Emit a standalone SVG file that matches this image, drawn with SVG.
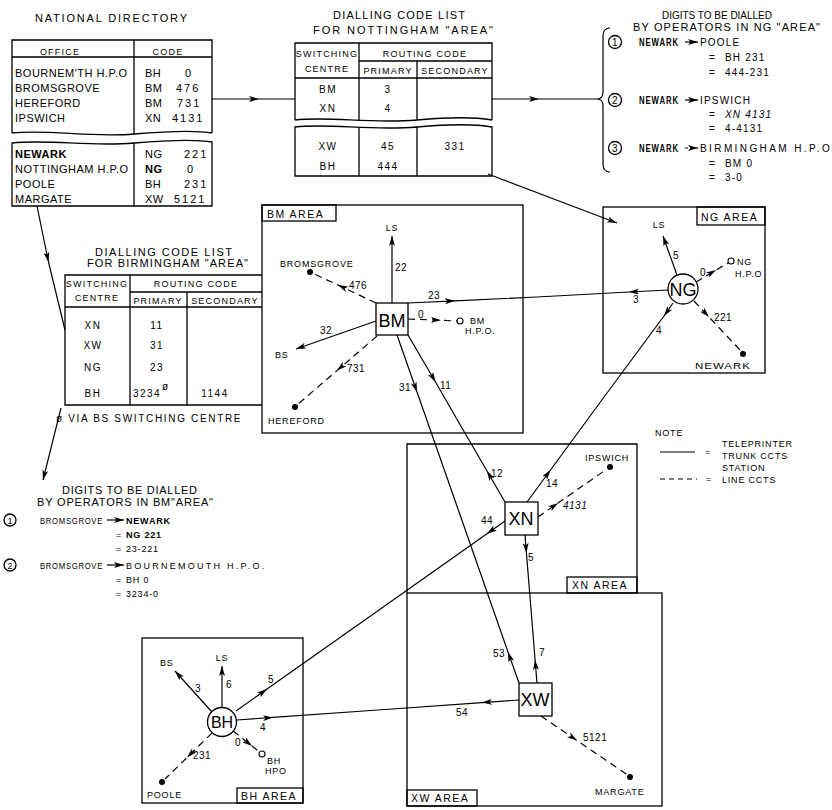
<svg xmlns="http://www.w3.org/2000/svg" width="832" height="810" viewBox="0 0 832 810">
<defs>
<marker id="ar" viewBox="0 0 10 6" refX="10" refY="3" markerWidth="10" markerHeight="6" markerUnits="userSpaceOnUse" orient="auto"><path d="M0,0 L10,3 L0,6 L2.5,3 z" fill="#000"/></marker>
</defs>
<style>
text{font-family:"Liberation Sans",Arial,sans-serif;fill:#000}
.ln{stroke:#000;stroke-width:1.2;fill:none}
.ds{stroke-dasharray:7 5}
.bx{fill:none;stroke:#000;stroke-width:1.3}
.nb{fill:#fff;stroke:#000;stroke-width:1.3}
.mm{marker-mid:url(#ar)}
.me{marker-end:url(#ar)}
.h{font-size:11px}
.r{font-size:11px;letter-spacing:0.5px}
.cd{font-size:11px;letter-spacing:2px}
.c{font-size:9px;letter-spacing:0.8px}
.hd{font-size:9px;letter-spacing:1.2px}
.l{font-size:10px;letter-spacing:0.5px}
.tl{font-size:10px;letter-spacing:1.5px}
.a{font-size:10.5px;letter-spacing:1.5px}
.g{font-size:10px;letter-spacing:1.2px}
.n{font-size:18px}
.m{text-anchor:middle}
.e{text-anchor:end}
.b{font-weight:bold}
.dot{fill:#000}
.oc{fill:#fff;stroke:#000;stroke-width:1.1}
</style>

<!-- NATIONAL DIRECTORY -->
<g id="national-directory">
<text class="h" x="35" y="22" textLength="152" lengthAdjust="spacing">NATIONAL DIRECTORY</text>
<path class="bx" d="M12,133 L12,40 L212,40 L212,133"/>
<path class="bx" d="M12,133 C50,129 90,138 134,134 C170,131 195,130 212,133"/>
<path class="bx" d="M12,57 L212,57 M134,40 L134,134"/>
<path class="bx" d="M12,143 C50,139 90,147 134,143 C170,140 195,139 212,142 L212,206 L12,206 Z M134,143 L134,206"/>
<text class="hd m" x="60" y="55">OFFICE</text>
<text class="hd m" x="168" y="55">CODE</text>
<text class="r" x="15" y="77">BOURNEM'TH H.P.O</text>
<text class="r" x="15" y="92">BROMSGROVE</text>
<text class="r" x="15" y="107">HEREFORD</text>
<text class="r" x="15" y="122">IPSWICH</text>
<text class="r" x="145" y="77">BH</text><text class="cd" x="185" y="77">0</text>
<text class="r" x="145" y="92">BM</text><text class="cd" x="176" y="92">476</text>
<text class="r" x="145" y="107">BM</text><text class="cd" x="177" y="107">731</text>
<text class="r" x="145" y="122">XN</text><text class="cd" x="172" y="122">4131</text>
<text class="r b" x="15" y="158">NEWARK</text>
<text class="r" x="15" y="173">NOTTINGHAM H.P.O</text>
<text class="r" x="15" y="188">POOLE</text>
<text class="r" x="15" y="203">MARGATE</text>
<text class="r" x="145" y="158">NG</text><text class="cd" x="184" y="158">221</text>
<text class="r b" x="145" y="173">NG</text><text class="cd" x="187" y="173">0</text>
<text class="r" x="145" y="188">BH</text><text class="cd" x="184" y="188">231</text>
<text class="r" x="145" y="203">XW</text><text class="cd" x="174" y="203">5121</text>
</g>

<!-- NOTTINGHAM LIST -->
<g id="nottingham-list">
<text class="h" x="333" y="19" textLength="132" lengthAdjust="spacing">DIALLING CODE LIST</text>
<text class="h" x="313" y="34" textLength="180" lengthAdjust="spacing">FOR NOTTINGHAM "AREA"</text>
<path class="bx" d="M295,120 L295,43 L492,43 L492,120 M359,61 L492,61 M295,78 L492,78 M359,43 L359,121 M417,61 L417,120"/>
<path class="bx" d="M295,120 C330,116 370,124 417,120 C450,117 475,117 492,120"/>
<path class="bx" d="M295,127 C330,123 370,131 417,127 C450,124 475,124 492,127 L492,176 L295,176 Z M359,127 L359,176 M417,127 L417,176"/>
<text class="hd m" x="327" y="57">SWITCHING</text>
<text class="hd m" x="327" y="72">CENTRE</text>
<text class="hd m" x="425" y="57">ROUTING CODE</text>
<text class="hd m" x="388" y="74">PRIMARY</text>
<text class="hd m" x="455" y="74">SECONDARY</text>
<text class="tl m" x="328" y="93">BM</text><text class="tl m" x="388" y="93">3</text>
<text class="tl m" x="328" y="112">XN</text><text class="tl m" x="388" y="112">4</text>
<text class="tl m" x="328" y="150">XW</text><text class="tl m" x="388" y="150">45</text><text class="tl m" x="455" y="150">331</text>
<text class="tl m" x="328" y="170">BH</text><text class="tl m" x="388" y="170">444</text>
</g>

<!-- NG DIGITS -->
<g id="ng-digits">
<text class="h" x="662" y="19" textLength="110" lengthAdjust="spacing" style="font-size:10px">DIGITS TO BE DIALLED</text>
<text class="h" x="633" y="31" textLength="187" lengthAdjust="spacing">BY OPERATORS IN NG "AREA"</text>
<path class="ln" d="M610,28 Q603,28 603,36 L603,92 Q603,99 597,99 Q603,99 603,106 L603,164 Q603,172 610,172"/>
<circle cx="615" cy="42" r="6.5" class="bx"/><text class="l m" x="615" y="46">1</text>
<circle cx="615" cy="100" r="6.5" class="bx"/><text class="l m" x="615" y="104">2</text>
<circle cx="615" cy="148" r="6.5" class="bx"/><text class="l m" x="615" y="152">3</text>
<text class="g b" x="639" y="46" textLength="40" lengthAdjust="spacingAndGlyphs">NEWARK</text>
<text class="g b" x="639" y="104" textLength="40" lengthAdjust="spacingAndGlyphs">NEWARK</text>
<text class="g b" x="639" y="152" textLength="40" lengthAdjust="spacingAndGlyphs">NEWARK</text>
<path class="ln me" d="M685,42 L698,42"/>
<path class="ln me" d="M685,100 L698,100"/>
<path class="ln me" d="M685,148 L698,148" style="stroke-dasharray:3 2"/>
<text class="g" x="700" y="46">POOLE</text>
<text class="g" x="700" y="104">IPSWICH</text>
<text class="g" x="700" y="152" textLength="131" lengthAdjust="spacing">BIRMINGHAM H.P.O</text>
<text class="g" x="709" y="61">=</text><text class="g" x="725" y="61">BH 231</text>
<text class="g" x="709" y="76">=</text><text class="g" x="725" y="76">444-231</text>
<text class="g" x="709" y="118">=</text><text class="g" x="725" y="118" font-style="italic">XN 4131</text>
<text class="g" x="709" y="132">=</text><text class="g" x="725" y="132">4-4131</text>
<text class="g" x="709" y="167">=</text><text class="g" x="725" y="167">BM 0</text>
<text class="g" x="709" y="181">=</text><text class="g" x="725" y="181">3-0</text>
</g>

<!-- BIRMINGHAM LIST -->
<g id="birmingham-list">
<text class="h" x="95" y="256" textLength="137" lengthAdjust="spacing">DIALLING CODE LIST</text>
<text class="h" x="87" y="267" textLength="161" lengthAdjust="spacing">FOR BIRMINGHAM "AREA"</text>
<path class="bx" d="M262,275 L65,275 L65,405 L262,405 M130,292 L262,292 M65,307 L262,307 M130,275 L130,405 M187,292 L187,405"/>
<text class="hd m" x="97" y="287">SWITCHING</text>
<text class="hd m" x="97" y="301">CENTRE</text>
<text class="hd m" x="196" y="287">ROUTING CODE</text>
<text class="hd m" x="158" y="304">PRIMARY</text>
<text class="hd m" x="225" y="304">SECONDARY</text>
<text class="tl m" x="93" y="329">XN</text><text class="tl m" x="157" y="329">11</text>
<text class="tl m" x="93" y="349">XW</text><text class="tl m" x="157" y="349">31</text>
<text class="tl m" x="93" y="371">NG</text><text class="tl m" x="157" y="371">23</text>
<text class="tl m" x="93" y="397">BH</text><text class="tl m" x="147" y="397">3234</text><text class="l" x="162" y="390" font-size="8">ø</text><text class="tl m" x="215" y="397">1144</text>
<text class="l" x="56" y="422" textLength="185" lengthAdjust="spacing">ø VIA BS SWITCHING CENTRE</text>
</g>

<!-- BM DIGITS -->
<g id="bm-digits">
<text class="h" x="62" y="494" textLength="135" lengthAdjust="spacing">DIGITS TO BE DIALLED</text>
<text class="h" x="37" y="506" textLength="176" lengthAdjust="spacing">BY OPERATORS IN BM"AREA"</text>
<circle cx="10" cy="520" r="6" class="bx"/><text class="c m" x="10" y="523.5" style="letter-spacing:0">1</text>
<circle cx="10" cy="565" r="6" class="bx"/><text class="c m" x="10" y="568.5" style="letter-spacing:0">2</text>
<text class="c" x="40" y="524" textLength="63" lengthAdjust="spacingAndGlyphs">BROMSGROVE</text>
<path class="ln me" d="M107,520 L124,520"/>
<text class="c b" x="126" y="524">NEWARK</text>
<text class="c" x="116" y="538">=</text><text class="c b" x="126" y="538">NG 221</text>
<text class="c" x="116" y="552">=</text><text class="c" x="126" y="552">23-221</text>
<text class="c" x="40" y="569" textLength="63" lengthAdjust="spacingAndGlyphs">BROMSGROVE</text>
<path class="ln me" d="M107,565 L124,565"/>
<text class="c" x="126" y="569" textLength="139" lengthAdjust="spacing">BOURNEMOUTH H.P.O.</text>
<text class="c" x="116" y="583">=</text><text class="c" x="126" y="583">BH 0</text>
<text class="c" x="116" y="597">=</text><text class="c" x="126" y="597">3234-0</text>
</g>

<!-- NOTE -->
<g id="note">
<text class="c" x="655" y="436">NOTE</text>
<path class="ln" d="M660,452 L695,452"/>
<text class="c" x="705" y="455">=</text>
<text class="c" x="722" y="447">TELEPRINTER</text>
<text class="c" x="722" y="459">TRUNK CCTS</text>
<path class="ln ds" d="M660,479 L697,479" style="stroke-dasharray:5 4"/>
<text class="c" x="706" y="482">=</text>
<text class="c" x="722" y="471">STATION</text>
<text class="c" x="722" y="483">LINE CCTS</text>
</g>

<!-- AREAS -->
<g id="bm-area">
<rect class="bx" x="262" y="205" width="261" height="228"/>
<rect class="bx" x="262" y="205" width="74" height="16"/>
<text class="a" x="267" y="218">BM AREA</text>
</g>
<g id="ng-area">
<rect class="bx" x="603" y="207" width="162" height="166"/>
<rect class="bx" x="697" y="207" width="68" height="18"/>
<text class="a" x="701" y="221">NG AREA</text>
</g>
<g id="xn-area">
<path class="bx" d="M407,593 L407,444 L637,444 L637,593"/>
<rect class="bx" x="567" y="577" width="70" height="16"/>
<text class="a" x="572" y="589">XN AREA</text>
</g>
<g id="xw-area">
<rect class="bx" x="407" y="593" width="255" height="213"/>
<rect class="bx" x="407" y="790" width="70" height="16"/>
<text class="a" x="411" y="802">XW AREA</text>
</g>
<g id="bh-area">
<rect class="bx" x="142" y="638" width="161" height="165"/>
<rect class="bx" x="237" y="788" width="66" height="15"/>
<text class="a" x="241" y="800">BH AREA</text>
</g>

<!-- CONNECTORS -->
<g id="connectors">
<path class="ln mm" d="M212,99 L259,99 L295,99"/>
<path class="ln mm" d="M492,99 L539,99 L597,99"/>
<path class="ln me" d="M488,174 L617,223"/>
<path class="ln mm" d="M37,206 L48.5,262 L65,330"/>
<path class="ln me" d="M61,408 L43,480"/>

<path class="ln mm" d="M408,303 L455,300.8 L537,297"/>
<path class="ln mm" d="M668,290 L629,292 L537,297"/>
<path class="ln mm" d="M397,335 L417,392 L458,509"/>
<path class="ln mm" d="M519,683 L508,652 L458,509"/>
<path class="ln mm" d="M408,335 L435.5,382 L456.5,418.5"/>
<path class="ln mm" d="M505,502 L487,471 L456.5,418.5"/>
<path class="ln mm" d="M673,303 L664,316 L600,402.5"/>
<path class="ln mm" d="M527,502 L550.5,470 L600,402.5"/>
<path class="ln mm" d="M525,535 L526.4,553 L531,609"/>
<path class="ln mm" d="M537,683 L535.1,660 L531,609"/>
<path class="ln mm" d="M505,521 L487,533.7 L370.5,616"/>
<path class="ln mm" d="M236,711 L267,689.1 L370.5,616"/>
<path class="ln mm" d="M519,700 L482,702.6 L378,710"/>
<path class="ln mm" d="M237,720 L273,717.4 L378,710"/>

<path class="ln me" d="M392,303 L392,236"/>
<path class="ln me" d="M376,321 L296,349"/>
<path class="ln me" d="M212,712 L175,671"/>
<path class="ln me" d="M222,707 L222,666"/>
<path class="ln me" d="M677,275 L663,236"/>

<path class="ln ds mm" d="M376,303 L338,285 L313,273.5"/>
<path class="ln ds mm" d="M408,319 L441,320.3 L457,321"/>
<path class="ln ds mm" d="M377,336 L337,370.6 L297,405"/>
<path class="ln ds mm" d="M696,282 L716,270 L728,263"/>
<path class="ln ds mm" d="M694,301 L709,317 L741,351"/>
<path class="ln ds mm" d="M538,517 L558,503 L607,469"/>
<path class="ln ds mm" d="M541,716 L577,740.5 L627,774.5"/>
<path class="ln ds mm" d="M212,733 L187,757.5 L165,779"/>
<path class="ln ds mm" d="M233,731 L252,746 L259.5,752"/>

<text class="l" x="395" y="271">22</text>
<text class="l" x="349" y="289">476</text>
<text class="l" x="428" y="299">23</text>
<text class="l" x="418" y="318">0</text>
<text class="l" x="320" y="334">32</text>
<text class="l" x="347" y="372">731</text>
<text class="l e" x="411" y="391">31</text>
<text class="l" x="440" y="389">11</text>
<text class="l" x="491" y="477">12</text>
<text class="l" x="546" y="487">14</text>
<text class="l" x="563" y="509" font-style="italic">4131</text>
<text class="l" x="481" y="524">44</text>
<text class="l" x="528" y="561">5</text>
<text class="l" x="539" y="656">7</text>
<text class="l e" x="505" y="657">53</text>
<text class="l" x="456" y="716">54</text>
<text class="l" x="583" y="741">5121</text>
<text class="l" x="260" y="731">4</text>
<text class="l" x="268" y="683">5</text>
<text class="l" x="195" y="692">3</text>
<text class="l" x="226" y="688">6</text>
<text class="l" x="193" y="759">231</text>
<text class="l" x="235" y="746">0</text>
<text class="l" x="633" y="303">3</text>
<text class="l" x="673" y="259">5</text>
<text class="l" x="700" y="276">0</text>
<text class="l" x="714" y="321">221</text>
<text class="l" x="656" y="334">4</text>
</g>

<!-- STATIONS -->
<g id="bm-stations">
<circle class="dot" cx="310" cy="272" r="3"/>
<text class="c" x="280" y="267">BROMSGROVE</text>
<circle class="dot" cx="295" cy="407" r="3"/>
<text class="c" x="268" y="424">HEREFORD</text>
<text class="c" x="275" y="358">BS</text>
<text class="c m" x="392" y="231">LS</text>
<circle class="oc" cx="460" cy="321" r="3"/>
<text class="c" x="470" y="324">BM</text>
<text class="c" x="465" y="334">H.P.O.</text>
</g>
<g id="ng-stations">
<text class="c m" x="659" y="228">LS</text>
<circle class="oc" cx="731" cy="261" r="3"/>
<text class="c" x="737" y="265">NG</text>
<text class="c" x="735" y="277">H.P.O</text>
<circle class="dot" cx="743" cy="354" r="3"/>
<text class="c" x="695" y="369" textLength="56" lengthAdjust="spacingAndGlyphs">NEWARK</text>
</g>
<g id="xn-stations">
<circle class="dot" cx="610" cy="467" r="3"/>
<text class="c" x="585" y="461">IPSWICH</text>
</g>
<g id="xw-stations">
<circle class="dot" cx="630" cy="777" r="3"/>
<text class="c" x="595" y="795">MARGATE</text>
</g>
<g id="bh-stations">
<text class="c" x="160" y="666">BS</text>
<text class="c m" x="222" y="661">LS</text>
<circle class="dot" cx="162" cy="782" r="3"/>
<text class="c" x="147" y="798">POOLE</text>
<circle class="oc" cx="262" cy="754" r="3"/>
<text class="c" x="267" y="764">BH</text>
<text class="c" x="265" y="774">HPO</text>
</g>

<!-- SWITCHING CENTRES -->
<g id="node-bm"><rect class="nb" x="376" y="303" width="32" height="32"/><text class="n m" x="392" y="327">BM</text></g>
<g id="node-ng"><circle class="nb" cx="683" cy="289" r="15"/><text class="n m" x="683" y="296">NG</text></g>
<g id="node-xn"><rect class="nb" x="505" y="502" width="33" height="33"/><text class="n m" x="521" y="525">XN</text></g>
<g id="node-xw"><rect class="nb" x="519" y="683" width="33" height="33"/><text class="n m" x="535" y="706">XW</text></g>
<g id="node-bh"><circle class="nb" cx="222" cy="722" r="14.5"/><text class="n m" x="222" y="728" style="font-size:16px">BH</text></g>
</svg>
